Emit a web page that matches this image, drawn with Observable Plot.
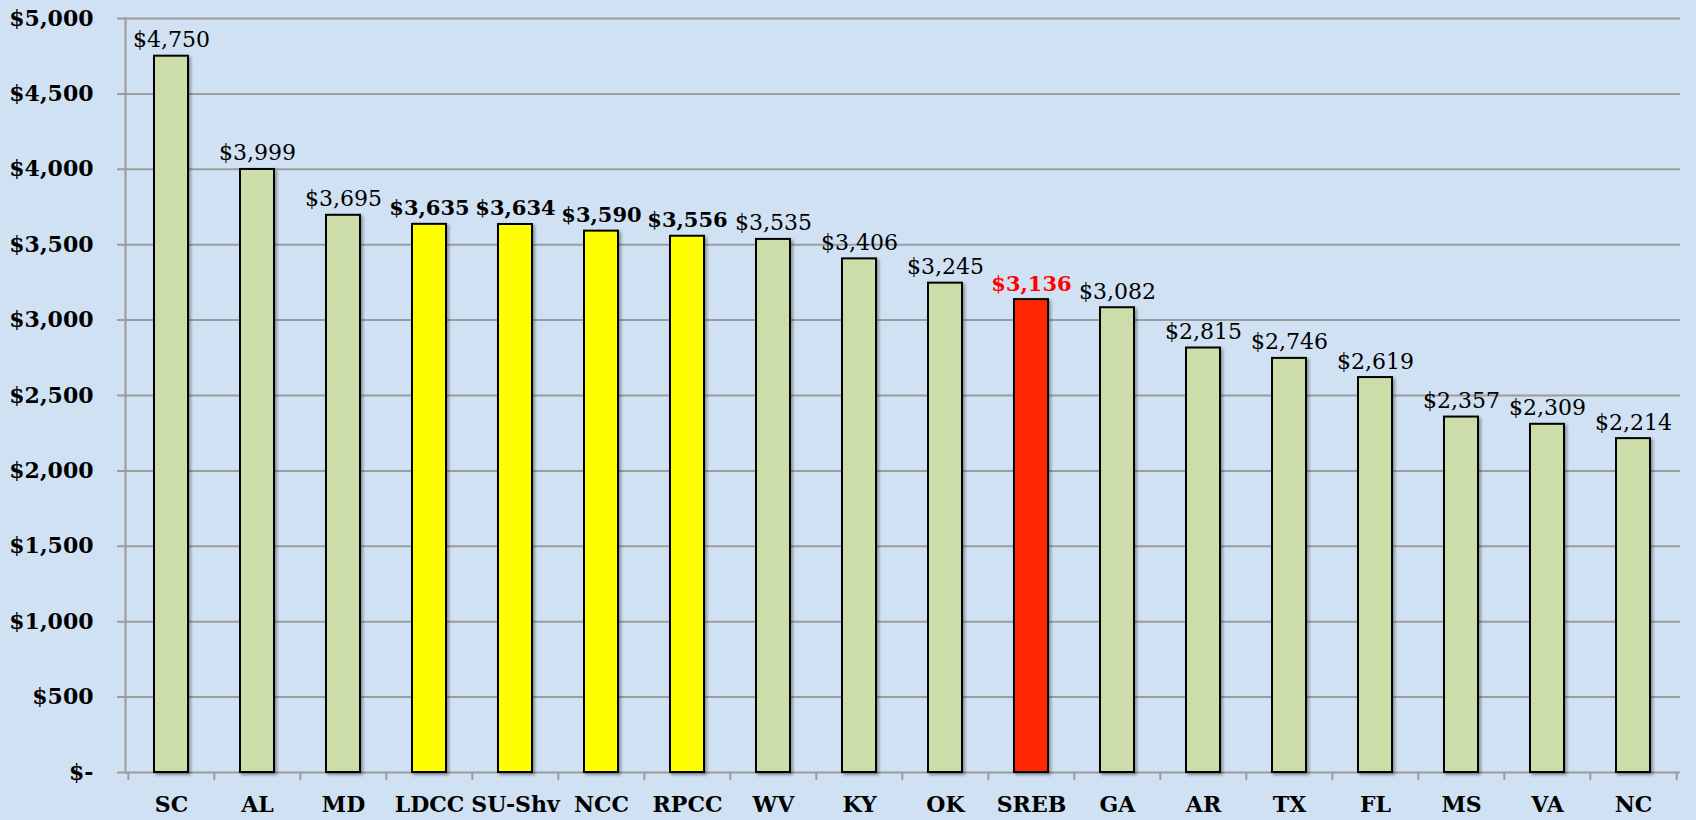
<!DOCTYPE html>
<html>
<head>
<meta charset="utf-8">
<script src="https://cdn.jsdelivr.net/npm/d3@7"></script>
<script src="https://cdn.jsdelivr.net/npm/@observablehq/plot@0.6"></script>
<style>
  html, body { margin: 0; padding: 0; background: #cfe1f3; }
  #chart svg { display: block; }
  g[aria-label="bar"] rect { filter: drop-shadow(2px 2px 1.5px rgba(0,0,0,0.35)); }
</style>
</head>
<body>
<div id="chart"></div>
<script>
const categories = ["SC","AL","MD","LDCC","SU-Shv","NCC","RPCC","WV","KY","OK","SREB","GA","AR","TX","FL","MS","VA","NC"];
const values = [4750,3999,3695,3635,3634,3590,3556,3535,3406,3245,3136,3082,2815,2746,2619,2357,2309,2214];
const groups = ["state","state","state","la","la","la","la","state","state","state","sreb","state","state","state","state","state","state","state"];
const yTicks = [0,500,1000,1500,2000,2500,3000,3500,4000,4500,5000];

const data = categories.map((c, i) => ({category: c, value: values[i], group: groups[i]}));
const fmt = d3.format("$,");
const fillOf = {state: "#cddda9", la: "#ffff00", sreb: "#ff2600"};

const W = 1696, H = 820, mL = 125, mR = 16, mT = 18, mB = 48;
const step = (W - mL - mR) / categories.length;
const gray = "#9c9c9c";

const chart = Plot.plot({
  width: W, height: H,
  marginLeft: mL, marginRight: mR, marginTop: mT, marginBottom: mB,
  style: {background: "#cfe1f3", fontFamily: "'DejaVu Serif', serif", color: "black"},
  x: {domain: categories, paddingInner: 0.6, paddingOuter: 0.3, axis: null, label: null},
  y: {domain: [0, 5000], axis: null, label: null},
  marks: [
    Plot.ruleY(yTicks, {y: d => d, stroke: gray, strokeWidth: 2, insetLeft: -8}),
    Plot.frame({anchor: "left", stroke: gray, strokeWidth: 2}),
    Plot.ruleX(categories, {x: d => d, dx: -step / 2, y1: 0, y2: -53, stroke: gray, strokeWidth: 2}),
    Plot.ruleX(categories.slice(-1), {x: d => d, dx: step / 2, y1: 0, y2: -53, stroke: gray, strokeWidth: 2}),
    Plot.axisY(yTicks, {tickSize: 0, tickPadding: 32, fontSize: 22, fontWeight: "bold", label: null,
      tickFormat: d => d === 0 ? "$-" : fmt(d)}),
    Plot.barY(data, {x: "category", y: "value", fill: d => fillOf[d.group], stroke: "black", strokeWidth: 2}),
    Plot.text(data.filter(d => d.group === "state"), {x: "category", y: "value", text: d => fmt(d.value),
      dy: -9, lineAnchor: "bottom", fontSize: 22, fill: "black"}),
    Plot.text(data.filter(d => d.group === "la"), {x: "category", y: "value", text: d => fmt(d.value),
      dy: -9, lineAnchor: "bottom", fontSize: 21, fontWeight: "bold", fill: "black"}),
    Plot.text(data.filter(d => d.group === "sreb"), {x: "category", y: "value", text: d => fmt(d.value),
      dy: -9, lineAnchor: "bottom", fontSize: 21, fontWeight: "bold", fill: "#ff0000"}),
    Plot.axisX({tickSize: 0, tickPadding: 24, fontSize: 22, fontWeight: "bold", label: null})
  ]
});
document.getElementById("chart").appendChild(chart);
</script>
</body>
</html>
